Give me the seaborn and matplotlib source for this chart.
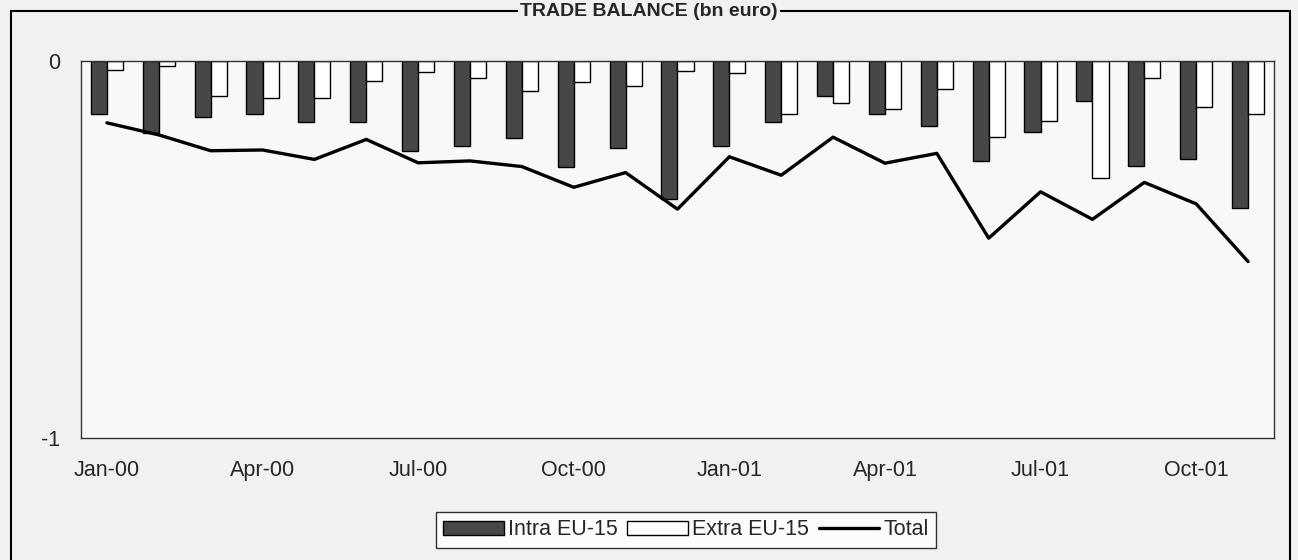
import numpy as np
import pandas as pd
import matplotlib
matplotlib.use("Agg")
import matplotlib.pyplot as plt
import matplotlib.patches as mpatches
import seaborn as sns

months = ["Jan-00", "Feb-00", "Mar-00", "Apr-00", "May-00", "Jun-00",
          "Jul-00", "Aug-00", "Sep-00", "Oct-00", "Nov-00", "Dec-00",
          "Jan-01", "Feb-01", "Mar-01", "Apr-01", "May-01", "Jun-01",
          "Jul-01", "Aug-01", "Sep-01", "Oct-01", "Nov-01"]

# trade balance, bn euro
intra = [-0.141, -0.190, -0.148, -0.141, -0.163, -0.161, -0.239, -0.225,
         -0.203, -0.282, -0.232, -0.366, -0.225, -0.163, -0.092, -0.141,
         -0.172, -0.265, -0.188, -0.106, -0.279, -0.261, -0.391]
extra = [-0.024, -0.012, -0.092, -0.097, -0.097, -0.053, -0.029, -0.044,
         -0.080, -0.056, -0.066, -0.027, -0.031, -0.141, -0.112, -0.128,
         -0.073, -0.202, -0.159, -0.311, -0.044, -0.121, -0.141]
total = [-0.164, -0.196, -0.238, -0.236, -0.261, -0.208, -0.270, -0.265,
         -0.280, -0.335, -0.296, -0.393, -0.254, -0.303, -0.202, -0.271,
         -0.245, -0.470, -0.347, -0.420, -0.322, -0.379, -0.532]

tick_months = ["Jan-00", "Apr-00", "Jul-00", "Oct-00",
               "Jan-01", "Apr-01", "Jul-01", "Oct-01"]

sns.set_style("white")
plt.rcParams["font.family"] = ["Liberation Sans", "DejaVu Sans"]
plt.rcParams["axes.unicode_minus"] = False

df = pd.DataFrame({
    "Month": months * 2,
    "Value": intra + extra,
    "Series": ["Intra EU-15"] * len(months) + ["Extra EU-15"] * len(months),
})

fig = plt.figure(figsize=(12.98, 5.6), dpi=100, facecolor="#f1f1f1")
ax = fig.add_axes([0.0624, 0.218, 0.9191, 0.673])
ax.set_facecolor("#f8f8f8")

sns.barplot(data=df, x="Month", y="Value", hue="Series", order=months,
            palette={"Intra EU-15": "#474747", "Extra EU-15": "white"},
            edgecolor="black", linewidth=1.0, width=0.62, gap=0,
            saturation=1, ax=ax)
sns.lineplot(x=np.arange(len(months)), y=total, color="black",
             linewidth=2.4, label="Total", ax=ax)

ax.set_ylim(-1, 0)
ax.set_xlim(-0.5, len(months) - 0.5)
ax.set_yticks([0, -1])
ax.set_yticklabels(["0", "-1"])
ax.set_xticks([months.index(m) for m in tick_months])
ax.set_xticklabels(tick_months)
ax.tick_params(axis="both", labelsize=15.5, length=3, color="#555555")
ax.tick_params(axis="x", pad=13)
ax.tick_params(axis="y", pad=12)
ax.set_xlabel("")
ax.set_ylabel("")
for s in ax.spines.values():
    s.set_visible(True)
    s.set_color("#333333")
    s.set_linewidth(1.0)

handles, labels = ax.get_legend_handles_labels()
ax.get_legend().remove()
order = [labels.index(l) for l in ["Intra EU-15", "Extra EU-15", "Total"]]
leg = fig.legend([handles[i] for i in order], [labels[i] for i in order],
                 loc="center", bbox_to_anchor=(0.5285, 0.0536), ncol=3,
                 fontsize=15.5, frameon=True, fancybox=False,
                 edgecolor="black", facecolor="white", handlelength=2.8,
                 handleheight=0.6, handletextpad=0.2, columnspacing=0.45,
                 borderpad=0.35, borderaxespad=0)
leg.get_frame().set_linewidth(1.0)

# outer frame of the scanned chart
fig.patches.append(mpatches.Rectangle((11 / 1298, -0.05), 1279 / 1298, 1.05 - 11 / 560,
                                      transform=fig.transFigure, fill=False,
                                      edgecolor="black", linewidth=1.5))

fig.text(0.5, 1 - 16 / 560, "TRADE BALANCE (bn euro)", ha="center",
         va="baseline", fontsize=14, fontweight="bold",
         bbox=dict(facecolor="#f1f1f1", edgecolor="none", pad=1.5))

fig.savefig("out.png", dpi=100, facecolor=fig.get_facecolor())
